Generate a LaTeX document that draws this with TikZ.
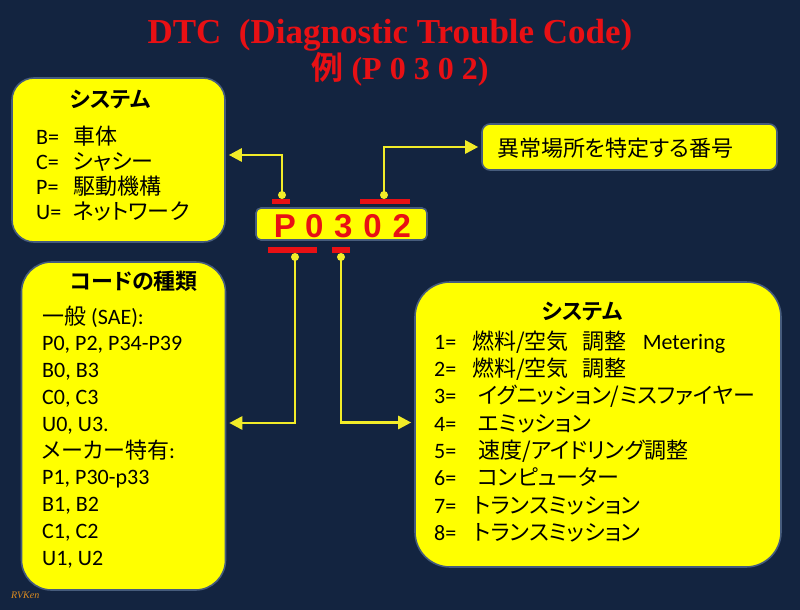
\documentclass[tikz,border=0pt]{standalone}
\usepackage{fontspec}
\setmainfont{Carlito}
\newfontfamily\jp{Noto Sans CJK JP}[RawFeature=+palt,BoldFont={Noto Sans CJK JP Bold}]
\newfontfamily\titlefont{Liberation Serif}
\newfontfamily\codefont{Liberation Sans}
\usetikzlibrary{arrows.meta,calc}
\definecolor{bg}{RGB}{19,36,64}
\definecolor{boxyellow}{RGB}{255,255,0}
\definecolor{boxline}{RGB}{70,92,125}
\definecolor{codered}{RGB}{232,16,20}
\definecolor{lineyellow}{RGB}{242,236,40}
\definecolor{signorange}{RGB}{222,140,30}

\begin{document}
\begin{tikzpicture}[x=1pt,y=-1pt,
  box/.style={draw=boxline,line width=1.6pt,fill=boxyellow,rounded corners=#1,inner sep=0pt},
  txt/.style={anchor=base west,inner sep=0pt,font=\fontsize{22}{26}\selectfont},
  head/.style={anchor=base,inner sep=0pt,font=\jp\bfseries\fontsize{22}{26}\selectfont},
  dot/.style={circle,fill=lineyellow,inner sep=0pt,minimum size=8pt},
  conn/.style={draw=lineyellow,line width=2.7pt,-{Triangle[length=13pt,width=13pt]},shorten >=3pt},
  bar/.style={fill=codered}]
\fill[bg] (0,0) rectangle (800,610);
\useasboundingbox (0,0) rectangle (800,610);

\node[anchor=base,inner sep=0pt,text=codered,font=\titlefont\bfseries\fontsize{35}{40}\selectfont] (title) at (390,44) {DTC\ \ (Diagnostic Trouble Code)};
\node[anchor=base,inner sep=0pt,text=codered,font=\titlefont\bfseries\fontsize{32}{38}\selectfont] (example) at (400,79) {{\jp\bfseries 例} (P 0 3 0 2)};

\node[box=22pt,minimum width=213pt,minimum height=164pt] (sysA) at (118.5,160) {};
\node[box=8pt,minimum width=295pt,minimum height=46pt] (loc) at (629.5,147) {};
\node[box=5pt,minimum width=171pt,minimum height=32pt] (code) at (341.5,224) {};
\node[box=30pt,minimum width=204pt,minimum height=328pt] (kind) at (123.5,426) {};
\node[box=35pt,minimum width=366pt,minimum height=285pt] (sysB) at (598,424.5) {};

\foreach \c [count=\i from 0] in {P,0,3,0,2}
  \node[anchor=base,inner sep=0pt,text=codered,font=\codefont\bfseries\fontsize{33}{36}\selectfont] (d\i) at (285+29.2*\i,237) {\c};

\fill[bar] (272,199) rectangle (290,204);
\fill[bar] (360,199) rectangle (410,204);
\fill[bar] (268,247) rectangle (317,253);
\fill[bar] (332,247) rectangle (350,253);

\node[dot] (dP) at (282,195) {};
\node[dot] (dRest) at (384,195) {};
\node[dot] (dKind) at (295,257) {};
\node[dot] (dSys) at (341,257) {};
\draw[conn] (dP.center) |- ($(sysA.east)+(0,-5)$);
\draw[conn] (dRest.center) |- (loc.west);
\draw[conn] (dKind.center) |- ($(kind.east)+(0,-3)$);
\draw[conn] (dSys.center) |- ($(sysB.west)+(0,-2)$);

\node[head] (sysAhead) at (110,107) {システム};
\foreach \l/\t [count=\i from 0] in {B/車体,C/シャシー,P/駆動機構,U/ネットワーク}
  \node[txt] (a\i) at (36,144+25*\i) {\makebox[37pt][l]{\l=}{\jp\t}};

\node[txt,font=\jp\fontsize{22}{26}\selectfont] (loctext) at (497,156) {異常場所を特定する番号};

\node[head] (kindhead) at (134,289) {コードの種類};
\foreach \t [count=\i from 0] in {{{\jp 一般} (SAE):},{P0, P2, P34-P39},{B0, B3},{C0, C3},{U0, U3.},{{\jp メーカー特有}:},{P1, P30-p33},{B1, B2},{C1, C2},{U1, U2}}
  \node[txt] (k\i) at (42,324+26.8*\i) {\t};

\node[head] (sysBhead) at (582,319) {システム};
\foreach \i in {1,...,8}
  \node[txt] (n\i) at (434,322+27.3*\i) {\i=};
\foreach \t [count=\i] in {{{\jp 燃料/空気\hspace{14pt}調整}\hspace{16pt}Metering},{{\jp 燃料/空気\hspace{14pt}調整}},{\hspace{6pt}{\jp イグニッション/ミスファイヤー}},{\hspace{6pt}{\jp エミッション}},{\hspace{6pt}{\jp 速度/アイドリング調整}},{\hspace{5pt}{\jp コンピューター}},{\hspace{2pt}{\jp トランスミッション}},{\hspace{2pt}{\jp トランスミッション}}}
  \node[txt] (s\i) at (472,322+27.3*\i) {\t};

\node[anchor=west,inner sep=0pt,text=signorange,font=\titlefont\itshape\fontsize{10}{11}\selectfont] (sign) at (11,595) {RVKen};
\end{tikzpicture}
\end{document}
